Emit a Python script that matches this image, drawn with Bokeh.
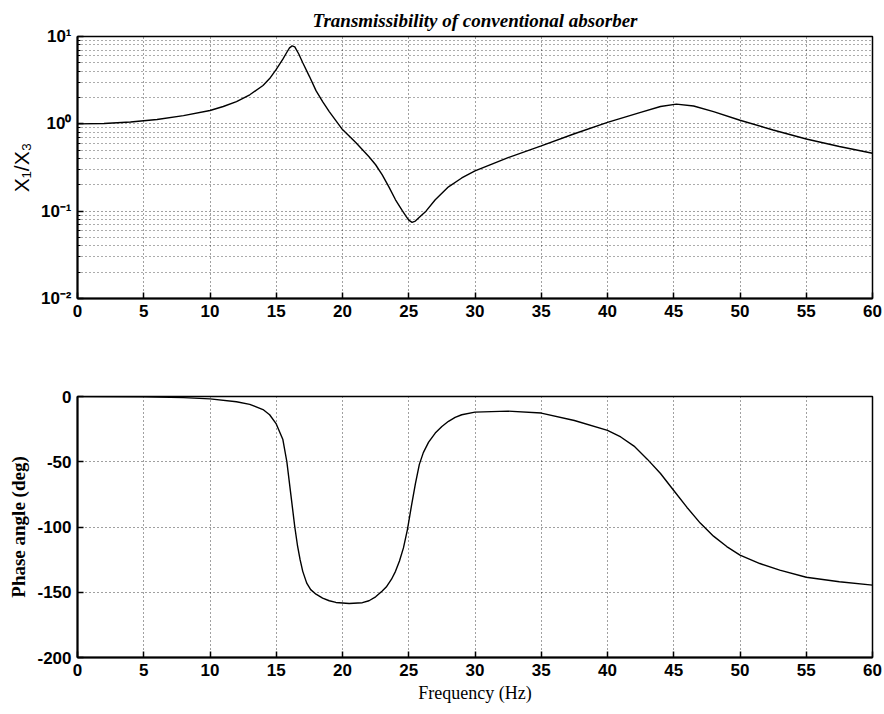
from bokeh.plotting import figure
from bokeh.layouts import column
from bokeh.models import FixedTicker, Range1d
from bokeh.embed import file_html
from bokeh.resources import INLINE

# ---- data ----
freq_mag = [0, 2, 4, 6, 8, 10, 11, 12, 13, 14, 14.5, 15, 15.5, 15.8, 16.0, 16.2, 16.4, 16.7, 17, 17.5, 18,
            18.5, 19, 20, 21, 22, 22.5, 23, 23.5, 24, 24.5, 24.8, 25.0, 25.25, 25.5, 25.8, 26.3, 27, 28, 29,
            30, 32.5, 35, 37.5, 40, 42.5, 44, 45.2, 46.5, 48, 50, 52.5, 55, 57.5, 60]
mag = [1.0, 1.01, 1.05, 1.12, 1.24, 1.42, 1.58, 1.80, 2.15, 2.75, 3.3, 4.2, 5.5, 6.6, 7.4, 7.8, 7.6, 6.3, 5.0,
       3.5, 2.4, 1.8, 1.38, 0.86, 0.61, 0.42, 0.34, 0.26, 0.19, 0.135, 0.102, 0.087, 0.079, 0.0745, 0.077,
       0.085, 0.1, 0.135, 0.19, 0.24, 0.29, 0.41, 0.56, 0.77, 1.04, 1.35, 1.58, 1.68, 1.6, 1.38, 1.1, 0.85,
       0.67, 0.55, 0.46]

freq_ph = [0, 5, 8, 10, 12, 13, 14, 14.5, 15, 15.5, 15.8, 16.1, 16.4, 16.6, 16.8, 17.0, 17.3, 17.6, 18, 18.5,
           19, 19.5, 20.5, 21.5, 22, 22.5, 23, 23.3, 23.7, 24, 24.3, 24.6, 24.9, 25.2, 25.5, 25.8, 26.1, 26.5,
           27, 27.5, 28, 28.5, 29, 30, 32.5, 35, 37.5, 40, 41, 42, 43, 44, 45, 46, 47, 48, 49, 50, 51.5, 53,
           55, 57.5, 60]
phase = [0, -0.3, -0.9, -1.8, -4, -6, -10, -14, -21, -33, -50, -75, -100, -114, -125, -134, -143, -148, -151.5,
         -154.5, -156.5, -157.8, -158.6, -158, -156.5, -153.5, -149, -146, -140, -134, -126, -116, -102, -84,
         -67, -52, -43, -35, -28, -23, -19, -16, -14, -12, -11.2, -12.7, -18.4, -26, -31, -38, -48, -59, -72,
         -85, -97, -107, -115, -121.5, -128, -133, -138.5, -142, -144.5]

x_ticks = [0, 5, 10, 15, 20, 25, 30, 35, 40, 45, 50, 55, 60]
mag_ticks = [0.01, 0.1, 1, 10]
mag_tick_labels = ["10\u207b\u00b2", "10\u207b\u00b9", "10\u2070", "10\u00b9"]
mag_minor = [m * d for d in [0.01, 0.1, 1] for m in range(2, 10)]
phase_ticks = [-200, -150, -100, -50, 0]
phase_tick_labels = ["-200", "-150", "-100", "-50", "0"]

title_text = "Transmissibility of conventional absorber"
ylabel_top = "X\u2081/X\u2083"
ylabel_bot = "Phase angle (deg)"
xlabel_bot = "Frequency (Hz)"

SANS = "Liberation Sans"
SERIF = "Liberation Serif"


def style_axis(ax):
    ax.axis_line_color = "black"
    ax.axis_line_width = 2
    ax.major_tick_in = 6
    ax.major_tick_out = 0
    ax.major_tick_line_color = "black"
    ax.major_tick_line_width = 1.5
    ax.minor_tick_in = 3
    ax.minor_tick_out = 0
    ax.major_label_text_font = SANS
    ax.major_label_text_font_style = "bold"
    ax.major_label_text_font_size = "17px"
    ax.major_label_text_color = "black"
    ax.major_label_standoff = 6
    ax.axis_label_text_color = "black"


# ---- top figure ----
p1 = figure(width=884, height=340, y_axis_type="log", output_backend="svg", toolbar_location=None,
            x_range=Range1d(0, 60), y_range=Range1d(0.01, 10),
            min_border_left=77, min_border_right=12, min_border_top=36, min_border_bottom=42)
p1.title.text = title_text
p1.title.align = "center"
p1.title.text_font = SERIF
p1.title.text_font_style = "bold italic"
p1.title.text_font_size = "19px"
p1.title.text_color = "black"
p1.title.standoff = 11
p1.outline_line_color = "black"
p1.outline_line_width = 1.5

xt = FixedTicker(ticks=x_ticks)
yt = FixedTicker(ticks=mag_ticks, minor_ticks=mag_minor)
p1.xaxis.ticker = xt
p1.yaxis.ticker = yt
p1.yaxis.major_label_overrides = dict(zip(mag_ticks, mag_tick_labels))
style_axis(p1.xaxis[0])
style_axis(p1.yaxis[0])
p1.xaxis.minor_tick_line_color = None
p1.yaxis.axis_label = ylabel_top
p1.yaxis.axis_label_text_font = SANS
p1.yaxis.axis_label_text_font_style = "normal"
p1.yaxis.axis_label_text_font_size = "21px"

p1.xgrid.ticker = xt
p1.ygrid.ticker = yt
for g in (p1.xgrid, p1.ygrid):
    g.grid_line_color = "black"
    g.grid_line_dash = "1 3"
    g.grid_line_alpha = 0.75
p1.ygrid.minor_grid_line_color = "black"
p1.ygrid.minor_grid_line_dash = "1 3"
p1.ygrid.minor_grid_line_alpha = 0.65

p1.line(freq_mag, mag, line_color="black", line_width=1.4)

# ---- bottom figure ----
p2 = figure(width=884, height=374, output_backend="svg", toolbar_location=None,
            x_range=Range1d(0, 60), y_range=Range1d(-200, 0),
            min_border_left=73, min_border_right=12, min_border_top=56, min_border_bottom=57)
p2.outline_line_color = "black"
p2.outline_line_width = 1.5
xt2 = FixedTicker(ticks=x_ticks)
yt2 = FixedTicker(ticks=phase_ticks)
p2.xaxis.ticker = xt2
p2.yaxis.ticker = yt2
p2.yaxis.major_label_overrides = dict(zip(phase_ticks, phase_tick_labels))
style_axis(p2.xaxis[0])
style_axis(p2.yaxis[0])
p2.xaxis.minor_tick_line_color = None
p2.yaxis.minor_tick_line_color = None
p2.yaxis.axis_label = ylabel_bot
p2.yaxis.axis_label_text_font = SERIF
p2.yaxis.axis_label_text_font_style = "bold"
p2.yaxis.axis_label_text_font_size = "19px"
p2.xaxis.axis_label = xlabel_bot
p2.xaxis.axis_label_text_font = SERIF
p2.xaxis.axis_label_text_font_style = "normal"
p2.xaxis.axis_label_text_font_size = "18px"
p2.xaxis.axis_label_standoff = 4

p2.xgrid.ticker = xt2
p2.ygrid.ticker = yt2
for g in (p2.xgrid, p2.ygrid):
    g.grid_line_color = "black"
    g.grid_line_dash = "1 3"
    g.grid_line_alpha = 0.75

p2.line(freq_ph, phase, line_color="black", line_width=1.4)

layout = column(p1, p2)
open("out.html", "w").write(file_html(layout, INLINE))
